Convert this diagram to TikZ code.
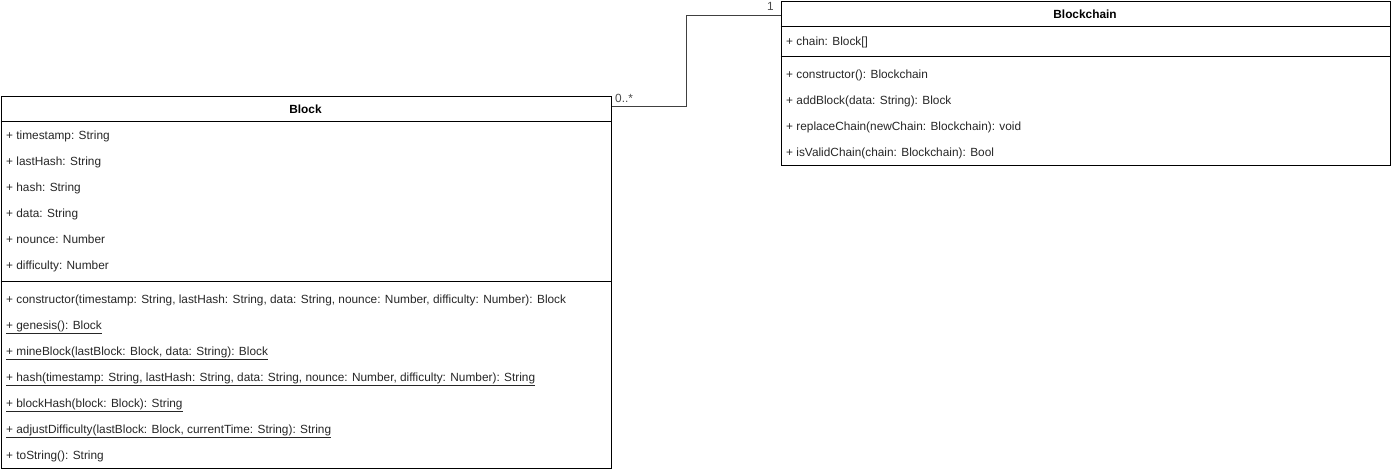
\documentclass[tikz,border=0pt]{standalone}
\usepackage{fontspec}
\setmainfont{Liberation Sans}
\tikzset{
  umlbox/.style={draw=black, line width=1pt, inner sep=0pt, anchor=north west},
  umltitle/.style={inner sep=0pt, anchor=base, font=\fontsize{11.85}{14}\selectfont\bfseries},
  member/.style={inner sep=0pt, anchor=base west, text=black!85, font=\fontsize{11.85}{14}\selectfont},
  mult/.style={inner sep=0pt, anchor=base west, text=black!70, font=\fontsize{11.85}{14}\selectfont}
}
\begin{document}
\begin{tikzpicture}[x=1pt,y=-1pt]
\useasboundingbox (0,0) rectangle (1391,471);

\node[umlbox, minimum width=610pt, minimum height=372pt] (block) at (0.5,95.5) {};
\node[umltitle, minimum width=610pt] (blocktitle) at (305.5,113) {Block};
\draw[line width=1pt] (0.5,121.5) -- (610.5,121.5);
\node[member] (b1) at (6,139) {+ timestamp: String};
\node[member] (b2) at (6,165) {+ lastHash: String};
\node[member] (b3) at (6,191) {+ hash: String};
\node[member] (b4) at (6,217) {+ data: String};
\node[member] (b5) at (6,243) {+ nounce: Number};
\node[member] (b6) at (6,269) {+ difficulty: Number};
\draw[line width=1pt] (0.5,281.5) -- (610.5,281.5);
\node[member] (b7) at (6,303) {+ constructor(timestamp: String, lastHash: String, data: String, nounce: Number, difficulty: Number): Block};
\node[member] (b8) at (6,329) {\underline{+ genesis(): Block}};
\node[member] (b9) at (6,355) {\underline{+ mineBlock(lastBlock: Block, data: String): Block}};
\node[member] (b10) at (6,381) {\underline{+ hash(timestamp: String, lastHash: String, data: String, nounce: Number, difficulty: Number): String}};
\node[member] (b11) at (6,407) {\underline{+ blockHash(block: Block): String}};
\node[member] (b12) at (6,433) {\underline{+ adjustDifficulty(lastBlock: Block, currentTime: String): String}};
\node[member] (b13) at (6,459) {+ toString(): String};

\node[umlbox, minimum width=609pt, minimum height=164pt] (chain) at (780.5,0.5) {};
\node[umltitle, minimum width=609pt] (chaintitle) at (1085,18) {Blockchain};
\draw[line width=1pt] (780.5,26.5) -- (1389.5,26.5);
\node[member] (c1) at (786,45) {+ chain: Block[]};
\draw[line width=1pt] (780.5,56.5) -- (1389.5,56.5);
\node[member] (c2) at (786,78) {+ constructor(): Blockchain};
\node[member] (c3) at (786,104) {+ addBlock(data: String): Block};
\node[member] (c4) at (786,130) {+ replaceChain(newChain: Blockchain): void};
\node[member] (c5) at (786,156) {+ isValidChain(chain: Blockchain): Bool};

\coordinate (from) at (block.north east |- 0,106.5);
\coordinate (to) at (chain.north west |- 0,15.5);
\draw[line width=1pt, black!75] (from) -- ++(75,0) |- (to);
\node[mult] (m1) at (615,102) {0..*};
\node[mult] (m2) at (767,10) {1};

\end{tikzpicture}
\end{document}
